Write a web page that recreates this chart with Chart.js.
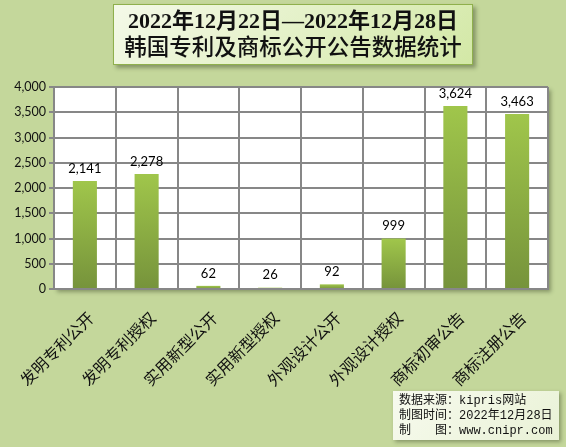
<!DOCTYPE html>
<html lang="zh">
<head>
  <meta charset="UTF-8">
  <title>韩国专利及商标公开公告数据统计</title>
  <script src="https://cdn.jsdelivr.net/npm/chart.js"></script>
  <style>
    html, body { margin: 0; padding: 0; }
    body { width: 566px; height: 447px; background: #c4d79b; position: relative; overflow: hidden; }
    #wrap { position: absolute; left: 0; top: 0; width: 566px; height: 447px; }
    .title-box {
      position: absolute; left: 113px; top: 4px; width: 358px; height: 57px;
      border: 1px solid #8fb04c;
      background: linear-gradient(135deg, #f4f9e8 0%, #e2f0c4 55%, #d3e8a6 100%);
      box-shadow: 3px 3px 4px rgba(60, 70, 40, 0.45);
      text-align: center; white-space: nowrap;
      font-family: "Liberation Serif", "Noto Sans CJK SC", serif;
      font-weight: bold; font-size: 22px; line-height: 27px; color: #111;
      padding-top: 2px; box-sizing: content-box;
    }
    .title-box .l2 { font-weight: 500; font-size: 22.5px; }
    .source-box {
      position: absolute; left: 393px; top: 391px; width: 166px; height: 49px;
      background: linear-gradient(135deg, #f7faee 0%, #e9f2d6 100%);
      box-shadow: 2px 2px 4px rgba(60, 70, 40, 0.45);
      font-family: "Liberation Mono", "Noto Sans CJK SC", monospace;
      font-size: 12px; line-height: 15px; color: #111;
      padding: 3px 0 0 6px; box-sizing: border-box; white-space: pre;
    }
  </style>
</head>
<body>
  <div id="wrap"><canvas id="chart" width="566" height="447"></canvas></div>

  <div class="title-box"><span class="l1">2022年12月22日—2022年12月28日</span><br><span class="l2">韩国专利及商标公开公告数据统计</span></div>
  <div class="source-box">数据来源：kipris网站
制图时间：2022年12月28日
制　　图：www.cnipr.com</div>

  <script>
    // 数据
    const categories = ["发明专利公开", "发明专利授权", "实用新型公开", "实用新型授权",
                        "外观设计公开", "外观设计授权", "商标初审公告", "商标注册公告"];
    const counts = [2141, 2278, 62, 26, 92, 999, 3624, 3463];
    const yTicks = [0, 500, 1000, 1500, 2000, 2500, 3000, 3500, 4000];

    const fmt = v => v.toLocaleString("en-US");

    // 绘图区白底 + 阴影
    const plotBg = {
      id: "plotBg",
      beforeDraw(chart) {
        const a = chart.chartArea, ctx = chart.ctx;
        ctx.save();
        ctx.shadowColor = "rgba(60,70,40,0.45)";
        ctx.shadowBlur = 4;
        ctx.shadowOffsetX = 3;
        ctx.shadowOffsetY = 3;
        ctx.fillStyle = "#ffffff";
        ctx.fillRect(a.left, a.top, a.right - a.left, a.bottom - a.top);
        ctx.restore();
      }
    };

    // 柱顶数值
    const valueLabels = {
      id: "valueLabels",
      afterDatasetsDraw(chart) {
        const ctx = chart.ctx;
        const meta = chart.getDatasetMeta(0);
        ctx.save();
        ctx.font = "13px Lato, 'Open Sans', sans-serif";
        ctx.fillStyle = "#000";
        ctx.textAlign = "center";
        ctx.textBaseline = "bottom";
        meta.data.forEach((bar, i) => {
          ctx.fillText(fmt(counts[i]), bar.x, bar.y - 6);
        });
        ctx.restore();
      }
    };

    function barGradient(context) {
      const chart = context.chart;
      if (!chart.chartArea) return "#8db345";
      const y = chart.scales.y;
      const top = y.getPixelForValue(context.raw);
      const bottom = y.getPixelForValue(0);
      const g = chart.ctx.createLinearGradient(0, top, 0, bottom);
      g.addColorStop(0, "#a0c64b");
      g.addColorStop(1, "#76933b");
      return g;
    }

    new Chart(document.getElementById("chart"), {
      type: "bar",
      data: {
        labels: categories,
        datasets: [{
          data: counts,
          backgroundColor: barGradient,
          barPercentage: 0.39,
          categoryPercentage: 1.0
        }]
      },
      plugins: [plotBg, valueLabels],
      options: {
        responsive: false,
        animation: false,
        events: [],
        layout: { padding: { top: 87, right: 18, left: 0, bottom: 0 } },
        plugins: {
          legend: { display: false },
          title: { display: false },
          tooltip: { enabled: false }
        },
        scales: {
          x: {
            grid: { color: "#878787", lineWidth: 2, offset: true, drawTicks: false },
            border: { color: "#878787", width: 2 },
            ticks: {
              color: "#111",
              font: { family: "'Noto Sans CJK SC', sans-serif", size: 16 },
              minRotation: 45, maxRotation: 45,
              padding: 19, labelOffset: 6, autoSkip: false
            },
            afterFit: s => {
              s.height = 447 - 289;
              s.paddingLeft = 0;
              s.paddingRight = 0;
            }
          },
          y: {
            min: 0, max: 4000,
            afterBuildTicks: s => { s.ticks = yTicks.map(v => ({ value: v })); },
            grid: { color: "#878787", lineWidth: 2, tickLength: 5, tickColor: "#878787" },
            border: { color: "#878787", width: 2 },
            ticks: {
              color: "#111",
              font: { family: "Lato, 'Open Sans', sans-serif", size: 12.5 },
              padding: 3,
              callback: v => fmt(v)
            },
            afterFit: s => { s.width = 54; }
          }
        }
      }
    });
  </script>
</body>
</html>
